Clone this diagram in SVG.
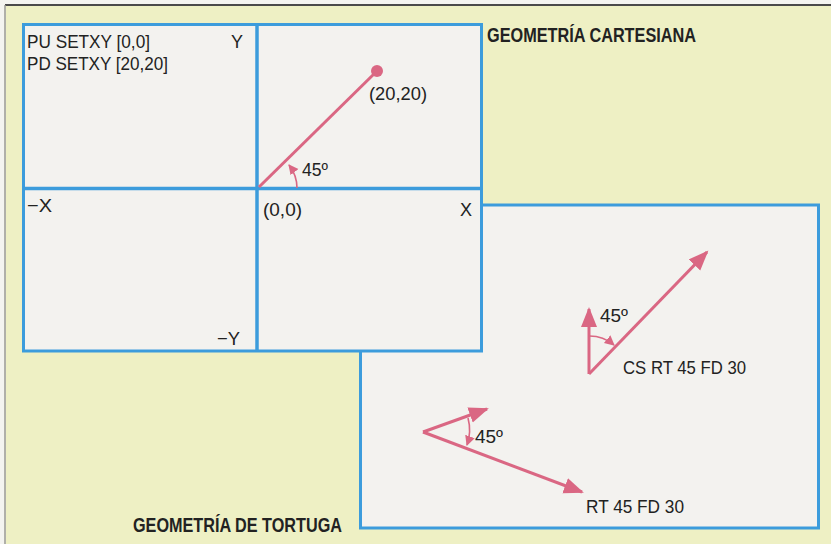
<svg xmlns="http://www.w3.org/2000/svg" width="831" height="544" viewBox="0 0 831 544">
<style>
.panel{fill:#f3f2ef;stroke:#3c9cdc;stroke-width:3}
.div{stroke:#3c9cdc;stroke-width:3.5;fill:none}
.t{font-family:"Liberation Sans",Arial,sans-serif;font-size:19px;fill:#222}
.h{font-family:"Liberation Sans",Arial,sans-serif;font-size:20px;font-weight:bold;fill:#222}
.ln{stroke:#da6783;stroke-width:3;fill:none}
.arc{stroke:#da6783;stroke-width:1.6;fill:none}
</style>
<defs>
<marker id="big" markerUnits="userSpaceOnUse" markerWidth="22" markerHeight="18" refX="18" refY="8" orient="auto"><path d="M0,0 L20,8 L0,16 z" fill="#da6783"/></marker>
<marker id="small" markerUnits="userSpaceOnUse" markerWidth="12" markerHeight="12" refX="9" refY="5" orient="auto"><path d="M0,0 L10,5 L0,10 z" fill="#da6783"/></marker>
</defs>
<rect x="0" y="0" width="831" height="544" fill="#f4f4f0"/>
<rect x="6" y="6" width="825" height="538" fill="#eef0c4"/>
<line x1="5" y1="5" x2="831" y2="5" stroke="#4a4a4a" stroke-width="2"/>
<line x1="5" y1="5" x2="5" y2="544" stroke="#9a9a92" stroke-width="1.5"/>

<g id="turtle-panel">
<rect class="panel" x="360.5" y="205" width="458" height="323"/>
</g>

<g id="cartesian-grid">
<rect class="panel" x="23.5" y="24.5" width="458" height="326.5"/>
<line class="div" x1="257" y1="24.5" x2="257" y2="351"/>
<line class="div" x1="23.5" y1="188.5" x2="481.5" y2="188.5"/>
</g>

<g id="labels">
<text class="t" x="27" y="48" textLength="123" lengthAdjust="spacingAndGlyphs">PU SETXY [0,0]</text>
<text class="t" x="27" y="70" textLength="141" lengthAdjust="spacingAndGlyphs">PD SETXY [20,20]</text>
<text class="t" x="231" y="48" textLength="12" lengthAdjust="spacingAndGlyphs">Y</text>
<text class="t" x="369" y="100" textLength="58" lengthAdjust="spacingAndGlyphs">(20,20)</text>
<text class="t" x="302" y="176" textLength="26" lengthAdjust="spacingAndGlyphs">45º</text>
<text class="t" x="263" y="216" textLength="39" lengthAdjust="spacingAndGlyphs">(0,0)</text>
<text class="t" x="460" y="216" textLength="12" lengthAdjust="spacingAndGlyphs">X</text>
<text class="t" x="27" y="212" textLength="25" lengthAdjust="spacingAndGlyphs">−X</text>
<text class="t" x="217" y="345" textLength="23" lengthAdjust="spacingAndGlyphs">−Y</text>
<text class="h" x="487" y="42" textLength="209" lengthAdjust="spacingAndGlyphs">GEOMETRÍA CARTESIANA</text>
<text class="h" x="133" y="532" textLength="209" lengthAdjust="spacingAndGlyphs">GEOMETRÍA DE TORTUGA</text>
<text class="t" x="600" y="322" textLength="28" lengthAdjust="spacingAndGlyphs">45º</text>
<text class="t" x="623" y="374" textLength="123" lengthAdjust="spacingAndGlyphs">CS RT 45 FD 30</text>
<text class="t" x="475" y="443" textLength="28" lengthAdjust="spacingAndGlyphs">45º</text>
<text class="t" x="586" y="513" textLength="98" lengthAdjust="spacingAndGlyphs">RT 45 FD 30</text>
</g>

<g id="connectors">
<line class="ln" x1="259" y1="187" x2="377" y2="71"/>
<circle cx="377" cy="71" r="6" fill="#da6783"/>
<path class="arc" d="M297,188 A38,38 0 0 0 289,165" marker-end="url(#small)"/>

<line class="ln" x1="589" y1="374" x2="589" y2="309" marker-end="url(#big)"/>
<line class="ln" x1="589" y1="374" x2="707" y2="252" marker-end="url(#big)"/>
<path class="arc" d="M589,336 A38,38 0 0 1 614,345" marker-end="url(#small)"/>

<line class="ln" x1="423" y1="432" x2="487" y2="409" marker-end="url(#big)"/>
<line class="ln" x1="423" y1="432" x2="582" y2="492" marker-end="url(#big)"/>
<path class="arc" d="M468,418 A46,46 0 0 1 467,445" marker-end="url(#small)"/>
</g>
</svg>
